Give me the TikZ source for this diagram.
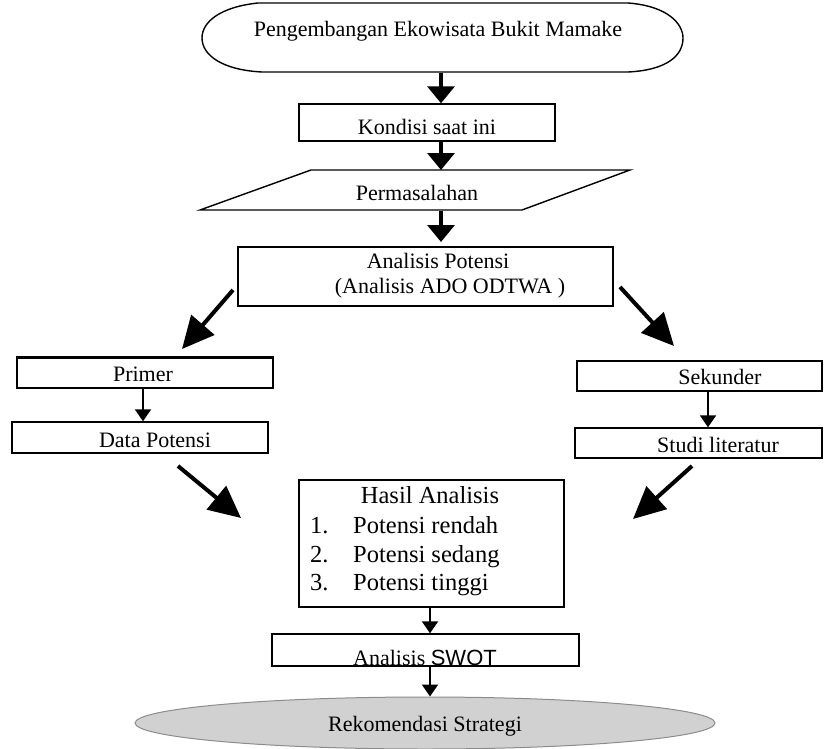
\documentclass[tikz,border=0pt]{standalone}
\usepackage{fontspec}
\setmainfont{Liberation Serif}
\newfontfamily\arialfont{Liberation Sans}
\usetikzlibrary{arrows.meta,shapes.geometric}
\begin{document}
\begin{tikzpicture}[x=1pt,y=-1pt,
  boxline/.style={draw, line width=1.4pt, inner sep=0pt},
  txt/.style={anchor=base, inner sep=0pt, font=\fontsize{22}{26}\selectfont},
  bigtxt/.style={anchor=base, inner sep=0pt, font=\fontsize{24.5}{29}\selectfont},
  bigtxtw/.style={anchor=base west, inner sep=0pt, font=\fontsize{24.5}{29}\selectfont},
  arrA/.style={line width=3.5pt, -{Triangle[width=27pt,length=17pt]}},
  arrD/.style={line width=4pt, -{Triangle[width=30pt,length=32pt]}},
  arrT/.style={line width=2pt, -{Triangle[width=16pt,length=12pt]}},
]
\useasboundingbox (0,0) rectangle (824,749);

% top terminal
\draw[line width=1.4pt] (258,3) -- (628,3) .. controls (668,6) and (683,24) .. (683,38)
  .. controls (683,55) and (668,70) .. (628,72) -- (262,72)
  .. controls (222,70) and (202,55) .. (202,38) .. controls (202,22) and (220,7) .. (258,3);
\coordinate (topS) at (441,73);
\node[txt] (toptxt) at (438,37) {Pengembangan Ekowisata Bukit Mamake};

% Kondisi
\node[boxline, minimum width=256pt, minimum height=37pt] (kond) at (427,122.5) {};
\node[txt] (kondtxt) at (427,135) {Kondisi saat ini};
\draw[arrA] (topS) -- (kond.north -| topS);

% Permasalahan
\draw[line width=1.4pt] (311,170) -- (630,170) -- (522,210) -- (200,210) -- cycle;
\coordinate (permN) at (441,170);
\coordinate (permS) at (441,211);
\node[txt] (permtxt) at (417,200) {Permasalahan};
\draw[arrA] (kond.south -| permN) -- (permN);

% Analisis Potensi
\node[boxline, minimum width=375pt, minimum height=59pt] (ap) at (425.5,276.5) {};
\node[txt] (ap1) at (438,268) {Analisis Potensi};
\node[txt] (ap2) at (450,293) {(Analisis ADO ODTWA )};
\coordinate (apIn) at (441,242);
\draw[arrA] (permS) -- (apIn);

% diagonal arrows from Analisis Potensi
\coordinate (dl1) at (233,290);
\coordinate (dl2) at (182,349);
\draw[arrD] (dl1) -- (dl2);
\coordinate (dr1) at (620,287);
\coordinate (dr2) at (674,346);
\draw[arrD] (dr1) -- (dr2);

% Primer branch
\node[boxline, minimum width=256pt, minimum height=30pt] (prim) at (145,373) {};
\draw[line width=2.2pt] (prim.north west) -- (prim.north east);
\node[txt] (primtxt) at (143,381) {Primer};
\node[boxline, minimum width=256pt, minimum height=31pt] (data) at (140,437.5) {};
\node[txt] (datatxt) at (155,447) {Data Potensi};
\coordinate (px) at (143,0);
\draw[arrT] (prim.south -| px) -- (data.north -| px);

% Sekunder branch
\node[boxline, minimum width=245pt, minimum height=30pt] (sek) at (699.5,376) {};
\node[txt] (sektxt) at (720,384) {Sekunder};
\node[boxline, minimum width=247pt, minimum height=30pt] (stud) at (698.5,443) {};
\node[txt] (studtxt) at (718,452) {Studi literatur};
\draw[line width=2.6pt] (623,458) -- (703,458);
\coordinate (sx) at (708,0);
\draw[arrT] (sek.south -| sx) -- (stud.north -| sx);

% lower diagonal arrows
\coordinate (ll1) at (178,466);
\coordinate (ll2) at (241,518);
\draw[arrD] (ll1) -- (ll2);
\coordinate (lr1) at (692,466);
\coordinate (lr2) at (633,519);
\draw[arrD] (lr1) -- (lr2);

% Hasil Analisis
\node[boxline, minimum width=265pt, minimum height=127pt] (hasil) at (431.5,543.5) {};
\node[bigtxt] (h0) at (430,503) {Hasil Analisis};
\node[bigtxtw] (n1) at (310,533) {1.};
\node[bigtxtw] (i1) at (353,533) {Potensi rendah};
\node[bigtxtw] (n2) at (310,562) {2.};
\node[bigtxtw] (i2) at (353,562) {Potensi sedang};
\node[bigtxtw] (n3) at (310,590) {3.};
\node[bigtxtw] (i3) at (353,590) {Potensi tinggi};

% SWOT
\node[boxline, minimum width=307pt, minimum height=32pt] (swot) at (425.5,650) {};
\node[txt] (swottxt) at (425,665) {Analisis {\arialfont SWOT}};
\coordinate (hx) at (430,0);
\draw[arrT] (hasil.south -| hx) -- (swot.north -| hx);

% Rekomendasi
\node[ellipse, draw=black!45, fill=black!18, line width=1pt, minimum width=580pt, minimum height=52pt, inner sep=0pt] (rek) at (425,723) {};
\node[txt] (rektxt) at (425,731) {Rekomendasi Strategi};
\draw[arrT] (swot.south -| hx) -- (rek.north -| hx);
\end{tikzpicture}
\end{document}
